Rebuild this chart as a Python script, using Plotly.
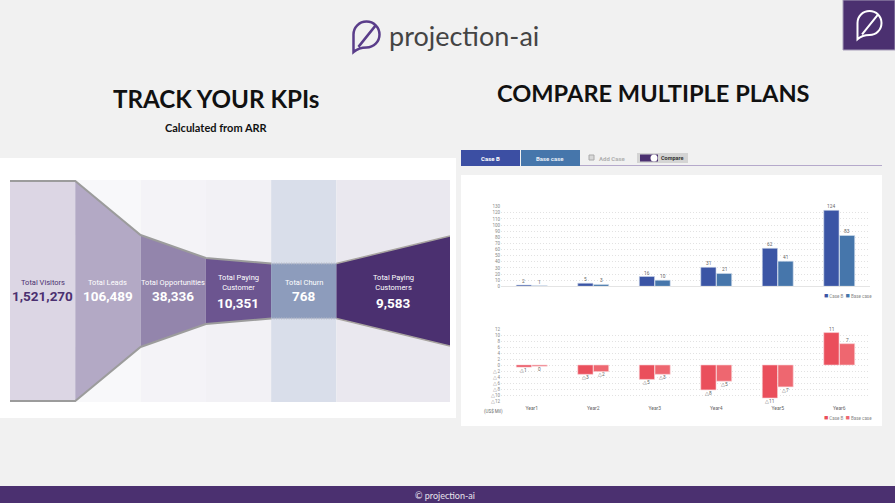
import plotly.graph_objects as go

W, H = 895, 503
PURPLE = "#4b3070"

# ---------- data ----------
stage_names = ["Total Visitors", "Total Leads", "Total Opportunities",
               "Total Paying<br>Customer", "Total Churn", "Total Paying<br>Customers"]
stage_values = ["1,521,270", "106,489", "38,336", "10,351", "768", "9,583"]
stage_edges = [0, 1, 2, 3, 4, 5, 6.74]
stage_half_heights = [110, 110, 56, 33, 27.5, 27.5, 55]
stage_fill = ["#dcd6e4", "#b3a9c5", "#9385ac", "#6c5590", "#8d9cbc", "#4b3070"]
stage_band = ["#ffffff", "#f8f8fa", "#f4f3f7", "#f2f1f5", "#d9deea", "#eae8ef"]
stage_text = [PURPLE, "#ffffff", "#ffffff", "#ffffff", "#ffffff", "#ffffff"]

years = ["Year1", "Year2", "Year3", "Year4", "Year5", "Year6"]
revenue_case_b = [2, 5, 16, 31, 62, 124]
revenue_base = [1, 3, 10, 21, 41, 83]
ebitda_case_b = [-0.7, -3.1, -4.8, -8.3, -11, 10.8]
ebitda_base = [-0.4, -2.2, -3.1, -5.4, -7.3, 7.1]
revenue_ticks = list(range(0, 131, 10))
ebitda_ticks = list(range(-12, 13, 2))


def tri(v):
    r = round(v)
    return f"△{abs(r)}" if r < 0 else str(r)


def px(x):
    return x / W


def py(y):
    return 1 - y / H


def path(d):
    """d: list of commands / (x, y) pixel tuples -> paper path string."""
    out = []
    for item in d:
        if isinstance(item, str):
            out.append(item)
        else:
            out.append(f"{px(item[0]):.5f},{py(item[1]):.5f}")
    return " ".join(out)


def rect(x0, y0, x1, y1, color, line=None, layer="below"):
    return dict(type="rect", xref="paper", yref="paper", x0=px(x0), x1=px(x1), y0=py(y0), y1=py(y1),
                fillcolor=color, line=dict(color=line or color, width=1 if line else 0), layer=layer)


def note(x, y, text, size, color="#333", bold=False, family="Roboto", anchor="center", ref=None):
    if bold:
        text = f"<b>{text}</b>"
    d = dict(text=text, showarrow=False, font=dict(size=size, color=color, family=family),
             xanchor=anchor, yanchor="middle", align="center")
    if ref:
        d.update(xref=ref[0], yref=ref[1], x=x, y=y)
    else:
        d.update(xref="paper", yref="paper", x=px(x), y=py(y))
    return d


def leaf(cx, cy, r, color, width):
    """Speech-leaf logo outline around (cx, cy)."""
    k = r * 0.56
    tipx, tipy = cx - r, cy + r * 1.35
    d = [
        "M", (cx - r, cy),
        "C", (cx - r, cy - k), (cx - k, cy - r), (cx, cy - r),
        "C", (cx + k, cy - r), (cx + r, cy - k), (cx + r, cy),
        "C", (cx + r, cy + k), (cx + k, cy + r), (cx, cy + r),
        "C", (cx - r * 0.3, cy + r), (cx - r * 0.6, cy + r * 1.0), (tipx, tipy),
        "Z",
        "M", (cx - r * 0.62, cy + r * 0.95),
        "L", (cx + r * 0.72, cy - r * 0.72),
    ]
    return dict(type="path", xref="paper", yref="paper", path=path(d),
                line=dict(color=color, width=width), fillcolor="rgba(0,0,0,0)", layer="above")


fig = go.Figure()

# ---------- funnel ----------
for i, name in enumerate(stage_names):
    x0, x1 = stage_edges[i], stage_edges[i + 1]
    fig.add_trace(go.Bar(x=[(x0 + x1) / 2], y=[222], base=[-111], width=[x1 - x0],
                         marker=dict(color=stage_band[i], line=dict(width=0)),
                         showlegend=False, hoverinfo="skip", xaxis="x", yaxis="y"))
for i, name in enumerate(stage_names):
    h0, h1 = stage_half_heights[i], stage_half_heights[i + 1]
    x0, x1 = stage_edges[i], stage_edges[i + 1]
    fig.add_trace(go.Scatter(x=[x0, x1, x1, x0, x0], y=[h0, h1, -h1, -h0, h0], mode="lines",
                             fill="toself", fillcolor=stage_fill[i], line=dict(width=0),
                             showlegend=False, hoverinfo="skip", xaxis="x", yaxis="y"))
for sign in (1, -1):
    fig.add_trace(go.Scatter(x=stage_edges[:5], y=[sign * h for h in stage_half_heights[:5]], mode="lines",
                             line=dict(color="#9c9c9c", width=2), showlegend=False, hoverinfo="skip",
                             xaxis="x", yaxis="y"))
    fig.add_trace(go.Scatter(x=stage_edges[5:], y=[sign * h for h in stage_half_heights[5:]], mode="lines",
                             line=dict(color="#a8a4a0", width=1.5), showlegend=False, hoverinfo="skip",
                             xaxis="x", yaxis="y"))
    fig.add_trace(go.Scatter(x=stage_edges[4:6], y=[sign * h for h in stage_half_heights[4:6]], mode="lines",
                             line=dict(color="#b8bcc8", width=2, dash="1px,1.5px"), showlegend=False,
                             hoverinfo="skip", xaxis="x", yaxis="y"))

# ---------- bars ----------
for vals, nm, col, ln in [(revenue_case_b, "Case B", "#3b55a5", "#cdd6ea"), (revenue_base, "Base case", "#4676ab", "#d5e1ee")]:
    fig.add_trace(go.Bar(x=years, y=vals, name=nm, marker=dict(color=col, line=dict(color=ln, width=0.6)),
                         showlegend=False, xaxis="x2", yaxis="y2"))
for vals, nm, col, ln in [(ebitda_case_b, "Case B", "#ea4f5c", "#f8cfd3"), (ebitda_base, "Base case", "#ee6770", "#f8d5d8")]:
    fig.add_trace(go.Bar(x=years, y=vals, name=nm, marker=dict(color=col, line=dict(color=ln, width=0.6)),
                         showlegend=False, xaxis="x3", yaxis="y3"))

# ---------- shapes ----------
shapes = [
    rect(0, 158, 456, 418, "#ffffff"),
    rect(461, 175, 882, 426, "#ffffff"),
    rect(843, 0, 895, 50, PURPLE, line="#a79db9", layer="above"),
    rect(0, 486, 895, 503, PURPLE, layer="above"),
    rect(461, 150, 520, 166, "#3c4fa3", layer="above"),
    rect(521, 150, 580, 166, "#4676ab", layer="above"),
    rect(580, 165, 882, 166, "#b5a9cb", layer="above"),
    rect(589, 155, 594, 160, "#d8d8d8", line="#aaaaaa", layer="above"),
    rect(637, 153, 688, 163, "#d4d4d4", layer="above"),
    dict(type="rect", xref="paper", yref="paper", x0=px(640), x1=px(658), y0=py(154.5), y1=py(161.5),
         fillcolor=PURPLE, line=dict(width=0), layer="above"),
    dict(type="circle", xref="paper", yref="paper", x0=px(650.5), x1=px(657.5), y0=py(154.5), y1=py(161.5),
         fillcolor="#ffffff", line=dict(width=0), layer="above"),
    leaf(366.5, 34.5, 13, "#5a3d8a", 2.5),
    leaf(869.5, 23, 12, "#ffffff", 2),
]

# ---------- text ----------
swatch = "<span style='color:{c};font-size:7px'>■</span> "
ann = [
    note(387, 35, "projection-ai", 27, "#444", family="Lato", anchor="left"),
    note(215.5, 98, "TRACK YOUR KPIs", 24.2, "#111", True, "Lato"),
    note(653, 93, "COMPARE MULTIPLE PLANS", 23.6, "#111", True, "Lato"),
    note(216, 128, "Calculated from ARR", 11, "#111", True, "Lato"),
    note(445, 495, "© projection-ai", 9, "#e8e4ee", family="Lato"),
    note(490, 158, "Case B", 6, "#ffffff", True),
    note(550, 158, "Base case", 6, "#e8eef6", True),
    note(612, 158, "Add Case", 6, "#b0b0b0", True),
    note(672, 158, "Compare", 5.5, "#333", True),
    note(493, 411, "(US$ Mil)", 4.5, "#666"),
    note(822, 296, swatch.format(c="#3b55a5") + "Case B  " + swatch.format(c="#4676ab") + "Base case", 4.5, "#888", anchor="left"),
    note(822, 418, swatch.format(c="#ea4f5c") + "Case B  " + swatch.format(c="#ee6770") + "Base case", 4.5, "#888", anchor="left"),
]
for i, (name, val) in enumerate(zip(stage_names, stage_values)):
    xc = (stage_edges[i] + stage_edges[i + 1]) / 2
    two = "<br>" in name
    ann.append(note(xc, 9, name, 7.5, stage_text[i], ref=("x", "y")))
    ann.append(note(xc, -12 if two else -5, val, 13.5, stage_text[i], True, ref=("x", "y")))

# bar value labels, placed from the data values
for series, side, refs, fmt in [(revenue_case_b, -8, ("x2", "y2"), str), (revenue_base, 8, ("x2", "y2"), str),
                                (ebitda_case_b, -8, ("x3", "y3"), tri), (ebitda_base, 8, ("x3", "y3"), tri)]:
    for yr, v in zip(years, series):
        a = note(yr, v, fmt(v), 4.8, "#666", ref=refs)
        a.update(xshift=side, yshift=3.5 if v >= 0 else -3.2)
        ann.append(a)

grid = dict(showgrid=True, gridcolor="#e2e2e2", griddash="1px,2px", gridwidth=0.7, zeroline=False, showline=False,
            ticks="", tickfont=dict(size=4.5, color="#888", family="Roboto"), automargin=False)

fig.update_layout(
    width=W, height=H, margin=dict(l=0, r=0, t=0, b=0), autosize=False,
    paper_bgcolor="#f1f1f1", plot_bgcolor="rgba(0,0,0,0)",
    barmode="group", bargap=0.49, bargroupgap=0.03, showlegend=False,
    shapes=shapes, annotations=ann,
    xaxis=dict(domain=[px(10), px(450)], range=[0, 6.74], visible=False),
    yaxis=dict(domain=[py(402), py(180)], range=[-111, 111], visible=False),
    xaxis2=dict(domain=[px(501), px(870)], anchor="y2", categoryorder="array", categoryarray=years,
                showticklabels=False, showline=True, linecolor="#e4e4e4", linewidth=0.6, ticks="", automargin=False),
    yaxis2=dict(domain=[py(286.3), py(206.7)], range=[0, 130], tickvals=revenue_ticks, anchor="x2", **grid),
    xaxis3=dict(domain=[px(501), px(870)], anchor="y3", categoryorder="array", categoryarray=years,
                showline=False, ticks="", ticklabelstandoff=3, automargin=False,
                tickfont=dict(size=5, color="#666", family="Roboto")),
    yaxis3=dict(domain=[py(401), py(329)], range=[-12, 12], tickvals=ebitda_ticks,
                ticktext=[tri(v) for v in ebitda_ticks], anchor="x3", **grid),
)

fig.write_html("out.html", config={"displayModeBar": False},
               post_script="document.body.style.margin='0';document.body.style.background='#f1f1f1';")
